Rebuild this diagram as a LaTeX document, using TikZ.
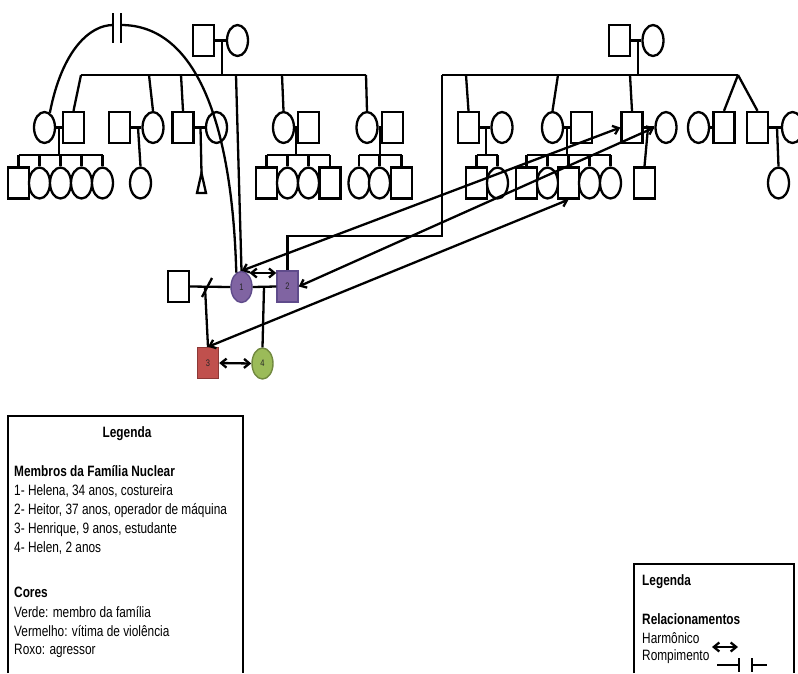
\documentclass[tikz,border=0pt]{standalone}
\usepackage{fontspec}
\setmainfont{Liberation Sans}[FakeStretch=0.79]
\usetikzlibrary{shapes.geometric,arrows.meta,calc}
\definecolor{pu}{HTML}{8064A2}
\definecolor{puD}{HTML}{5F4B8B}
\definecolor{rd}{HTML}{C0504D}
\definecolor{rdD}{HTML}{8C3836}
\definecolor{gr}{HTML}{9BBB59}
\definecolor{grD}{HTML}{71893F}
\tikzset{
  ln/.style={line width=2.3pt, draw=black},
  sq/.style={draw, line width=2.3pt, rectangle, minimum width=21pt, minimum height=31pt, inner sep=0pt, fill=white},
  ci/.style={draw, line width=2.3pt, ellipse, minimum width=21pt, minimum height=31pt, inner sep=0pt, fill=white},
  num/.style={font=\fontsize{9.5}{9.5}\selectfont, text=black!85},
  fpu/.style={fill=pu, draw=puD, num, line width=1.4pt},
  frd/.style={fill=rd, draw=rdD, num, line width=1.4pt},
  fgr/.style={fill=gr, draw=grD, num, line width=1.4pt},
  arr/.style={ln, {Straight Barb[length=5.5pt,width=9pt]}-{Straight Barb[length=5.5pt,width=9pt]}},
  txt/.style={font=\fontsize{15}{18}\selectfont, inner sep=0pt, anchor=base west},
  btxt/.style={txt, font=\fontsize{15}{18}\selectfont\bfseries},
}
\begin{document}
\begin{tikzpicture}[x=1pt,y=-1pt]
\useasboundingbox (0,0) rectangle (798,673);

% ===== left family =====
\node[sq] (gLm) at (203.5,40.5) {};
\node[ci] (gLf) at (237.5,40.5) {};
\coordinate (gLmid) at (222,40.5);
\coordinate (sLmid) at (222,75);
\coordinate (sLa) at (81,75);
\coordinate (sLb) at (366,75);
\coordinate (sLbb) at (149,75);
\coordinate (sLc) at (181,75);
\coordinate (sLn) at (236,75);
\coordinate (sLd) at (282,75);
\draw[ln] (gLm.east) -- (gLf.west);
\draw[ln] (gLmid) -- (sLmid);
\draw[ln] (sLa) -- (sLb);

% A
\node[ci] (a1) at (44.5,127.5) {};
\node[sq] (a2) at (73.5,127.5) {};
\coordinate (am) at (59,127.5);
\coordinate (as) at (59,155);
\node[sq] (a3) at (18.5,183) {};
\node[ci] (a4) at (39.5,183) {};
\node[ci] (a5) at (60.5,183) {};
\node[ci] (a6) at (81.5,183) {};
\node[ci] (a7) at (102.5,183) {};
\draw[ln] (sLa) -- (a2.north);
\draw[ln] (a1.east) -- (a2.west);
\draw[ln] (am) -- (as);
\draw[ln] (a3.north |- as) -- (a7.north |- as);
\foreach \n in {a3,a4,a5,a6,a7} \draw[ln] (\n.north |- as) -- (\n.north);

% B
\node[sq] (b1) at (119.5,127.5) {};
\node[ci] (b2) at (153,127.5) {};
\coordinate (bm) at (138,127.5);
\node[ci] (b3) at (140.5,183) {};
\draw[ln] (sLbb) -- (b2.north);
\draw[ln] (b1.east) -- (b2.west);
\draw[ln] (bm) -- (b3.north);

% C
\node[sq] (c1) at (183,127.5) {};
\node[ci] (c2) at (216.5,127.5) {};
\coordinate (cm) at (200.5,127.5);
\coordinate (ct) at (201.5,173);
\coordinate (ctl) at (197,193);
\coordinate (ctr) at (206,193);
\draw[ln] (sLc) -- (c1.north);
\draw[ln] (c1.east) -- (c2.west);
\draw[ln] (cm) -- (ct);
\draw[ln, fill=white] (ct) -- (ctl) -- (ctr) -- cycle;

% D
\node[ci] (d1) at (283.5,127.5) {};
\node[sq] (d2) at (308.5,127.5) {};
\coordinate (dm) at (296,127.5);
\coordinate (ds) at (296,155);
\node[sq] (d3) at (266.5,183) {};
\node[ci] (d4) at (287.5,183) {};
\node[ci] (d5) at (308.5,183) {};
\node[sq] (d6) at (330,183) {};
\draw[ln] (sLd) -- (d1.north);
\draw[ln] (d1.east) -- (d2.west);
\draw[ln] (dm) -- (ds);
\draw[ln] (d3.north |- ds) -- (d6.north |- ds);
\foreach \n in {d3,d4,d5,d6} \draw[ln] (\n.north |- ds) -- (\n.north);

% E
\node[ci] (e1) at (367,127.5) {};
\node[sq] (e2) at (392.5,127.5) {};
\coordinate (em) at (380,127.5);
\coordinate (es) at (380,155);
\node[ci] (e3) at (359,183) {};
\node[ci] (e4) at (379.5,183) {};
\node[sq] (e5) at (401.5,183) {};
\draw[ln] (sLb) -- (e1.north);
\draw[ln] (e1.east) -- (e2.west);
\draw[ln] (em) -- (es);
\draw[ln] (e3.north |- es) -- (e5.north |- es);
\foreach \n in {e3,e4,e5} \draw[ln] (\n.north |- es) -- (\n.north);

% ===== right family =====
\node[sq] (gRm) at (619.5,40.5) {};
\node[ci] (gRf) at (653,40.5) {};
\coordinate (gRmid) at (638,40.5);
\coordinate (sRmid) at (638,75);
\coordinate (sRa) at (442,75);
\coordinate (sRb) at (738,75);
\coordinate (sRf) at (466,75);
\coordinate (sRg) at (558,75);
\coordinate (sRh) at (630,75);
\draw[ln] (gRm.east) -- (gRf.west);
\draw[ln] (gRmid) -- (sRmid);
\draw[ln] (sRa) -- (sRb);

% F
\node[sq] (f1) at (468.5,127.5) {};
\node[ci] (f2) at (502,127.5) {};
\coordinate (fm) at (486,127.5);
\coordinate (fs) at (486,155);
\node[sq] (f3) at (476.5,183) {};
\node[ci] (f4) at (497.5,183) {};
\draw[ln] (sRf) -- (f1.north);
\draw[ln] (f1.east) -- (f2.west);
\draw[ln] (fm) -- (fs);
\draw[ln] (f3.north |- fs) -- (f4.north |- fs);
\foreach \n in {f3,f4} \draw[ln] (\n.north |- fs) -- (\n.north);

% G
\node[ci] (g1) at (552.5,127.5) {};
\node[sq] (g2) at (581.5,127.5) {};
\coordinate (gm) at (567,127.5);
\coordinate (gs) at (567,155);
\node[sq] (g3) at (526.5,183) {};
\node[ci] (g4) at (547.5,183) {};
\node[sq] (g5) at (568.5,183) {};
\node[ci] (g6) at (589.5,183) {};
\node[ci] (g7) at (610.5,183) {};
\draw[ln] (sRg) -- (g1.north);
\draw[ln] (g1.east) -- (g2.west);
\draw[ln] (gm) -- (gs);
\draw[ln] (g3.north |- gs) -- (g7.north |- gs);
\foreach \n in {g3,g4,g5,g6,g7} \draw[ln] (\n.north |- gs) -- (\n.north);

% H
\node[sq] (h1) at (632,127.5) {};
\node[ci] (h2) at (666,127.5) {};
\coordinate (hm) at (648,127.5);
\node[sq] (h3) at (644.5,183) {};
\draw[ln] (sRh) -- (h1.north);
\draw[ln] (h1.east) -- (h2.west);
\draw[ln] (hm) -- (h3.north);

% I
\node[ci] (i1) at (698.5,127.5) {};
\node[sq] (i2) at (724,127.5) {};
\draw[ln] (i1.east) -- (i2.west);
\draw[ln] (sRb) -- (i2.north);

% J
\node[sq] (j1) at (757.5,127.5) {};
\node[ci] (j2) at (792.5,127.5) {};
\coordinate (jm) at (777,127.5);
\node[ci] (j3) at (778.5,183) {};
\draw[ln] (sRb) -- (j1.north);
\draw[ln] (j1.east) -- (j2.west);
\draw[ln] (jm) -- (j3.north);

% ===== nuclear family =====
\node[sq] (ex) at (178.5,286.5) {};
\node[ci, fpu] (n1) at (241.5,287) {1};
\node[sq, fpu] (n2) at (287.5,286.5) {2};
\node[sq, frd] (n3) at (208,363) {3};
\node[ci, fgr] (n4) at (262.5,363.5) {4};
\coordinate (dv) at (205,287);
\coordinate (sl1) at (202,297);
\coordinate (sl2) at (212,278);
\coordinate (nm) at (264,287);
\coordinate (k1) at (442,236);
\draw[ln] (ex.east) -- (n1.west);
\draw[ln] (sl1) -- (sl2);
\draw[ln] (dv) -- (n3.north);
\draw[ln] (n1.east) -- (n2.west);
\draw[ln] (nm) -- (n4.north);
\draw[ln] (n2.north) |- (k1) -- (sRa);
\draw[ln] (sLn) -- (n1.north);
\draw[arr] ($(n1.center)+(8,-14)$) -- ($(n2.west)+(0,-13.5)$);
\draw[arr] (n3.east) -- (n4.west);

% cut-off relation arc with break mark
\coordinate (brkL) at (113,25);
\coordinate (brkR) at (121,25);
\coordinate (bk1t) at (113,13);
\coordinate (bk1b) at (113,43);
\coordinate (bk2t) at (121,13);
\coordinate (bk2b) at (121,43);
\draw[ln] (a1.70) .. controls (62,50) and (90,25) .. (brkL);
\draw[ln] (brkR) .. controls (195,25) and (232,120) .. (n1.110);
\draw[ln] (bk1t) -- (bk1b);
\draw[ln] (bk2t) -- (bk2b);

% long relation arrows
\draw[arr] (n1.north) -- (h1.west);
\draw[arr] (n2.east) -- (h2.west);
\draw[arr] (n3.north) -- (g5.south);

% ===== legend left =====
\coordinate (L1) at (8,673);
\coordinate (L2) at (8,416);
\coordinate (L3) at (243,416);
\coordinate (L4) at (243,673);
\draw[ln] (L1) -- (L2) -- (L3) -- (L4);
\node[btxt, anchor=base] (lt) at (127,437) {Legenda};
\node[btxt] (lm) at (14,476) {Membros da Família Nuclear};
\node[txt] (lm1) at (14,495) {1- Helena, 34 anos, costureira};
\node[txt] (lm2) at (14,514) {2- Heitor, 37 anos, operador de máquina};
\node[txt] (lm3) at (14,533) {3- Henrique, 9 anos, estudante};
\node[txt] (lm4) at (14,552) {4- Helen, 2 anos};
\node[btxt] (lc) at (14,597) {Cores};
\node[txt] (lc1) at (14,617) {Verde: membro da família};
\node[txt] (lc2) at (14,636) {Vermelho: vítima de violência};
\node[txt] (lc3) at (14,654) {Roxo: agressor};

% ===== legend right =====
\coordinate (R1) at (634,673);
\coordinate (R2) at (634,564);
\coordinate (R3) at (794,564);
\coordinate (R4) at (794,673);
\draw[ln] (R1) -- (R2) -- (R3) -- (R4);
\node[btxt] (rt) at (642,585) {Legenda};
\node[btxt] (rr) at (642,624) {Relacionamentos};
\node[txt] (rh) at (642,643) {Harmônico};
\node[txt] (rp) at (642,660) {Rompimento};
\coordinate (ha) at (712,647);
\coordinate (hb) at (738,647);
\draw[arr] (ha) -- (hb);
\coordinate (ra) at (717,665);
\coordinate (rb) at (739,665);
\coordinate (rbt) at (739,658);
\coordinate (rbb) at (739,672);
\coordinate (rc) at (752,665);
\coordinate (rct) at (752,658);
\coordinate (rcb) at (752,672);
\coordinate (rd) at (767,665);
\draw[ln] (ra) -- (rb);
\draw[ln] (rbt) -- (rbb);
\draw[ln] (rct) -- (rcb);
\draw[ln] (rc) -- (rd);
\end{tikzpicture}
\end{document}
